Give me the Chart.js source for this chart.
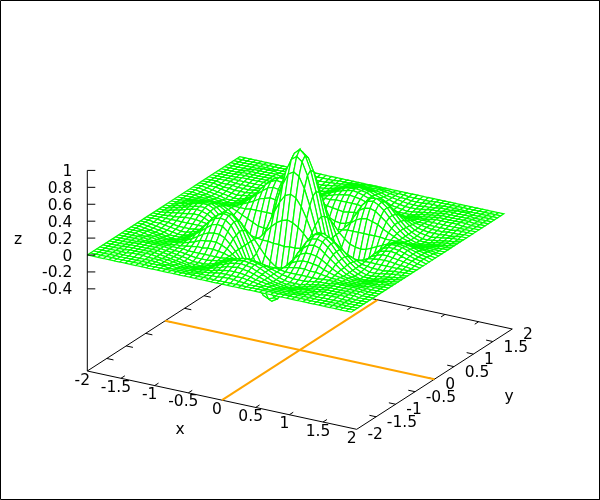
<!DOCTYPE html>
<html>
<head>
<meta charset="utf-8">
<title>Surface</title>
<script src="https://cdn.jsdelivr.net/npm/chart.js@4"></script>
<style>
  html, body { margin: 0; padding: 0; background: #fff; }
  canvas { display: block; }
</style>
</head>
<body>
<canvas id="chart" width="600" height="500"></canvas>
<script>
// grid positions of the wire mesh
const xGrid = [-2,-1.92,-1.84,-1.76,-1.68,-1.6,-1.52,-1.44,-1.36,-1.28,-1.2,-1.12,-1.04,-.96,-.88,-.8,-.72,-.64,-.56,-.48,-.4,-.32,-.24,-.16,-.08,0,.08,.16,.24,.32,.4,.48,.56,.64,.72,.8,.88,.96,1.04,1.12,1.2,1.28,1.36,1.44,1.52,1.6,1.68,1.76,1.84,1.92];
const yGrid = [-2,-1.92,-1.84,-1.76,-1.68,-1.6,-1.52,-1.44,-1.36,-1.28,-1.2,-1.12,-1.04,-.96,-.88,-.8,-.72,-.64,-.56,-.48,-.4,-.32,-.24,-.16,-.08,0,.08,.16,.24,.32,.4,.48,.56,.64,.72,.8,.88,.96,1.04,1.12,1.2,1.28,1.36,1.44,1.52,1.6,1.68,1.76,1.84,1.92];

// z values, one row per yGrid entry
const zRows = [
  [0,0,0,0,0,0,0,0,0,0,0,0,0,0,0,0,0,0,0,0,0,0,0,0,0,0,0,0,0,0,0,0,0,0,0,0,0,0,0,0,0,0,0,0,0,0,0,0,0,0],
  [0,0,0,0,0,0,0,0,0,0,0,0,0,0,0,0,0,0,0,0,0,0,0,0,0,0,0,0,0,0,0,0,0,0,0,0,0,0,0,0,0,0,0,0,0,0,0,0,0,0],
  [0,0,0,0,0,0,0,0,0,0,0,0,0,0,-.01,-.01,-.01,-.01,-.01,0,0,0,.01,.01,.02,.02,.02,.01,.01,0,0,0,-.01,-.01,-.01,-.01,-.01,0,0,0,0,0,0,0,0,0,0,0,0,0],
  [0,0,0,0,0,0,0,0,0,0,0,0,-.01,-.01,-.01,-.02,-.02,-.02,-.01,-.01,0,.01,.02,.03,.03,.03,.03,.03,.02,.01,0,-.01,-.01,-.02,-.02,-.02,-.01,-.01,-.01,0,0,0,0,0,0,0,0,0,0,0],
  [0,0,0,0,0,0,.01,.01,.01,0,0,0,-.01,-.02,-.02,-.03,-.03,-.03,-.02,-.01,0,.01,.03,.04,.05,.05,.05,.04,.03,.01,0,-.01,-.02,-.03,-.03,-.03,-.02,-.02,-.01,0,0,0,.01,.01,.01,0,0,0,0,0],
  [0,0,0,0,0,.01,.01,.01,.01,.01,0,-.01,-.01,-.02,-.03,-.04,-.04,-.04,-.03,-.02,0,.02,.04,.06,.07,.08,.07,.06,.04,.02,0,-.02,-.03,-.04,-.04,-.04,-.03,-.02,-.01,-.01,0,.01,.01,.01,.01,.01,0,0,0,0],
  [0,0,0,0,.01,.01,.01,.01,.01,.01,0,-.01,-.02,-.03,-.04,-.05,-.06,-.05,-.04,-.03,0,.03,.05,.08,.09,.1,.09,.08,.05,.03,0,-.03,-.04,-.05,-.06,-.05,-.04,-.03,-.02,-.01,0,.01,.01,.01,.01,.01,.01,0,0,0],
  [0,0,0,0,.01,.01,.01,.01,.01,.01,0,-.01,-.02,-.03,-.05,-.06,-.06,-.06,-.05,-.03,0,.03,.06,.09,.1,.11,.1,.09,.06,.03,0,-.03,-.05,-.06,-.06,-.06,-.05,-.03,-.02,-.01,0,.01,.01,.01,.01,.01,.01,0,0,0],
  [0,0,0,0,.01,.01,.01,.01,.01,.01,0,-.01,-.02,-.03,-.04,-.06,-.06,-.06,-.05,-.03,0,.03,.06,.08,.1,.11,.1,.08,.06,.03,0,-.03,-.05,-.06,-.06,-.06,-.04,-.03,-.02,-.01,0,.01,.01,.01,.01,.01,.01,0,0,0],
  [0,0,0,0,0,.01,.01,.01,.01,.01,0,-.01,-.01,-.02,-.03,-.04,-.04,-.04,-.03,-.02,0,.02,.04,.06,.07,.08,.07,.06,.04,.02,0,-.02,-.03,-.04,-.04,-.04,-.03,-.02,-.01,-.01,0,.01,.01,.01,.01,.01,0,0,0,0],
  [0,0,0,0,0,0,0,0,0,0,0,0,0,-.01,-.01,-.01,-.01,-.01,-.01,-.01,0,.01,.01,.02,.02,.02,.02,.02,.01,.01,0,-.01,-.01,-.01,-.01,-.01,-.01,-.01,0,0,0,0,0,0,0,0,0,0,0,0],
  [0,0,0,0,0,-.01,-.01,-.01,-.01,-.01,0,0,.01,.02,.03,.03,.04,.04,.03,.02,0,-.02,-.04,-.05,-.06,-.07,-.06,-.05,-.04,-.02,0,.02,.03,.04,.04,.03,.03,.02,.01,0,0,-.01,-.01,-.01,-.01,-.01,0,0,0,0],
  [0,0,0,-.01,-.01,-.01,-.02,-.02,-.02,-.01,0,.01,.03,.05,.08,.09,.1,.1,.08,.05,0,-.05,-.1,-.14,-.17,-.18,-.17,-.14,-.1,-.05,0,.05,.08,.1,.1,.09,.08,.05,.03,.01,0,-.01,-.02,-.02,-.02,-.01,-.01,-.01,0,0],
  [0,0,0,-.01,-.02,-.02,-.03,-.03,-.03,-.02,-.01,.02,.05,.09,.13,.16,.17,.17,.14,.08,.01,-.08,-.16,-.24,-.29,-.3,-.29,-.24,-.16,-.08,.01,.08,.14,.17,.17,.16,.13,.09,.05,.02,-.01,-.02,-.03,-.03,-.03,-.02,-.02,-.01,0,0],
  [0,0,-.01,-.01,-.02,-.03,-.04,-.05,-.04,-.03,-.01,.03,.08,.13,.18,.23,.25,.24,.19,.12,.01,-.11,-.23,-.33,-.4,-.43,-.4,-.33,-.23,-.11,.01,.12,.19,.24,.25,.23,.18,.13,.08,.03,-.01,-.03,-.04,-.05,-.04,-.03,-.02,-.01,-.01,0],
  [0,0,-.01,-.02,-.03,-.04,-.05,-.06,-.06,-.04,-.01,.03,.09,.16,.23,.28,.3,.29,.24,.14,.01,-.14,-.28,-.41,-.5,-.53,-.5,-.41,-.28,-.14,.01,.14,.24,.29,.3,.28,.23,.16,.09,.03,-.01,-.04,-.06,-.06,-.05,-.04,-.03,-.02,-.01,0],
  [0,0,-.01,-.02,-.03,-.04,-.06,-.06,-.06,-.04,-.01,.04,.1,.17,.25,.3,.33,.32,.26,.16,.01,-.15,-.31,-.45,-.54,-.58,-.54,-.45,-.31,-.15,.01,.16,.26,.32,.33,.3,.25,.17,.1,.04,-.01,-.04,-.06,-.06,-.06,-.04,-.03,-.02,-.01,0],
  [0,0,-.01,-.02,-.03,-.04,-.05,-.06,-.06,-.04,-.01,.04,.1,.17,.24,.29,.32,.31,.25,.15,.01,-.14,-.3,-.43,-.52,-.56,-.52,-.43,-.3,-.14,.01,.15,.25,.31,.32,.29,.24,.17,.1,.04,-.01,-.04,-.06,-.06,-.05,-.04,-.03,-.02,-.01,0],
  [0,0,-.01,-.01,-.02,-.03,-.04,-.05,-.05,-.03,-.01,.03,.08,.14,.19,.24,.26,.25,.21,.12,.01,-.12,-.25,-.35,-.43,-.45,-.43,-.35,-.25,-.12,.01,.12,.21,.25,.26,.24,.19,.14,.08,.03,-.01,-.03,-.05,-.05,-.04,-.03,-.02,-.01,-.01,0],
  [0,0,0,-.01,-.01,-.02,-.03,-.03,-.03,-.02,-.01,.02,.05,.08,.12,.14,.16,.15,.12,.07,.01,-.07,-.15,-.21,-.26,-.27,-.26,-.21,-.15,-.07,.01,.07,.12,.15,.16,.14,.12,.08,.05,.02,-.01,-.02,-.03,-.03,-.03,-.02,-.01,-.01,0,0],
  [0,0,0,0,0,0,0,0,0,0,0,0,0,.01,.01,.01,.01,.01,.01,.01,0,-.01,-.01,-.02,-.02,-.03,-.02,-.02,-.01,-.01,0,.01,.01,.01,.01,.01,.01,.01,0,0,0,0,0,0,0,0,0,0,0,0],
  [0,0,0,.01,.01,.02,.03,.03,.03,.02,.01,-.02,-.05,-.08,-.11,-.14,-.15,-.14,-.12,-.07,-.01,.07,.14,.2,.24,.26,.24,.2,.14,.07,-.01,-.07,-.12,-.14,-.15,-.14,-.11,-.08,-.05,-.02,.01,.02,.03,.03,.03,.02,.01,.01,0,0],
  [0,0,.01,.02,.03,.04,.05,.06,.06,.04,.01,-.04,-.1,-.16,-.23,-.28,-.31,-.3,-.25,-.15,-.01,.14,.29,.42,.51,.54,.51,.42,.29,.14,-.01,-.15,-.25,-.3,-.31,-.28,-.23,-.16,-.1,-.04,.01,.04,.06,.06,.05,.04,.03,.02,.01,0],
  [0,0,.01,.03,.04,.06,.08,.09,.08,.06,.02,-.05,-.14,-.24,-.33,-.41,-.45,-.43,-.35,-.21,-.02,.2,.42,.61,.74,.78,.74,.61,.42,.2,-.02,-.21,-.35,-.43,-.45,-.41,-.33,-.24,-.14,-.05,.02,.06,.08,.09,.08,.06,.04,.03,.01,0],
  [0,0,.02,.03,.05,.07,.09,.1,.1,.07,.02,-.06,-.17,-.29,-.4,-.5,-.54,-.52,-.43,-.26,-.02,.24,.51,.74,.89,.94,.89,.74,.51,.24,-.02,-.26,-.43,-.52,-.54,-.5,-.4,-.29,-.17,-.06,.02,.07,.1,.1,.09,.07,.05,.03,.02,0],
  [0,0,.02,.03,.05,.08,.1,.11,.11,.08,.02,-.07,-.18,-.3,-.43,-.53,-.58,-.56,-.45,-.27,-.03,.26,.54,.78,.94,1,.94,.78,.54,.26,-.03,-.27,-.45,-.56,-.58,-.53,-.43,-.3,-.18,-.07,.02,.08,.11,.11,.1,.08,.05,.03,.02,0],
  [0,0,.02,.03,.05,.07,.09,.1,.1,.07,.02,-.06,-.17,-.29,-.4,-.5,-.54,-.52,-.43,-.26,-.02,.24,.51,.74,.89,.94,.89,.74,.51,.24,-.02,-.26,-.43,-.52,-.54,-.5,-.4,-.29,-.17,-.06,.02,.07,.1,.1,.09,.07,.05,.03,.02,0],
  [0,0,.01,.03,.04,.06,.08,.09,.08,.06,.02,-.05,-.14,-.24,-.33,-.41,-.45,-.43,-.35,-.21,-.02,.2,.42,.61,.74,.78,.74,.61,.42,.2,-.02,-.21,-.35,-.43,-.45,-.41,-.33,-.24,-.14,-.05,.02,.06,.08,.09,.08,.06,.04,.03,.01,0],
  [0,0,.01,.02,.03,.04,.05,.06,.06,.04,.01,-.04,-.1,-.16,-.23,-.28,-.31,-.3,-.25,-.15,-.01,.14,.29,.42,.51,.54,.51,.42,.29,.14,-.01,-.15,-.25,-.3,-.31,-.28,-.23,-.16,-.1,-.04,.01,.04,.06,.06,.05,.04,.03,.02,.01,0],
  [0,0,0,.01,.01,.02,.03,.03,.03,.02,.01,-.02,-.05,-.08,-.11,-.14,-.15,-.14,-.12,-.07,-.01,.07,.14,.2,.24,.26,.24,.2,.14,.07,-.01,-.07,-.12,-.14,-.15,-.14,-.11,-.08,-.05,-.02,.01,.02,.03,.03,.03,.02,.01,.01,0,0],
  [0,0,0,0,0,0,0,0,0,0,0,0,0,.01,.01,.01,.01,.01,.01,.01,0,-.01,-.01,-.02,-.02,-.03,-.02,-.02,-.01,-.01,0,.01,.01,.01,.01,.01,.01,.01,0,0,0,0,0,0,0,0,0,0,0,0],
  [0,0,0,-.01,-.01,-.02,-.03,-.03,-.03,-.02,-.01,.02,.05,.08,.12,.14,.16,.15,.12,.07,.01,-.07,-.15,-.21,-.26,-.27,-.26,-.21,-.15,-.07,.01,.07,.12,.15,.16,.14,.12,.08,.05,.02,-.01,-.02,-.03,-.03,-.03,-.02,-.01,-.01,0,0],
  [0,0,-.01,-.01,-.02,-.03,-.04,-.05,-.05,-.03,-.01,.03,.08,.14,.19,.24,.26,.25,.21,.12,.01,-.12,-.25,-.35,-.43,-.45,-.43,-.35,-.25,-.12,.01,.12,.21,.25,.26,.24,.19,.14,.08,.03,-.01,-.03,-.05,-.05,-.04,-.03,-.02,-.01,-.01,0],
  [0,0,-.01,-.02,-.03,-.04,-.05,-.06,-.06,-.04,-.01,.04,.1,.17,.24,.29,.32,.31,.25,.15,.01,-.14,-.3,-.43,-.52,-.56,-.52,-.43,-.3,-.14,.01,.15,.25,.31,.32,.29,.24,.17,.1,.04,-.01,-.04,-.06,-.06,-.05,-.04,-.03,-.02,-.01,0],
  [0,0,-.01,-.02,-.03,-.04,-.06,-.06,-.06,-.04,-.01,.04,.1,.17,.25,.3,.33,.32,.26,.16,.01,-.15,-.31,-.45,-.54,-.58,-.54,-.45,-.31,-.15,.01,.16,.26,.32,.33,.3,.25,.17,.1,.04,-.01,-.04,-.06,-.06,-.06,-.04,-.03,-.02,-.01,0],
  [0,0,-.01,-.02,-.03,-.04,-.05,-.06,-.06,-.04,-.01,.03,.09,.16,.23,.28,.3,.29,.24,.14,.01,-.14,-.28,-.41,-.5,-.53,-.5,-.41,-.28,-.14,.01,.14,.24,.29,.3,.28,.23,.16,.09,.03,-.01,-.04,-.06,-.06,-.05,-.04,-.03,-.02,-.01,0],
  [0,0,-.01,-.01,-.02,-.03,-.04,-.05,-.04,-.03,-.01,.03,.08,.13,.18,.23,.25,.24,.19,.12,.01,-.11,-.23,-.33,-.4,-.43,-.4,-.33,-.23,-.11,.01,.12,.19,.24,.25,.23,.18,.13,.08,.03,-.01,-.03,-.04,-.05,-.04,-.03,-.02,-.01,-.01,0],
  [0,0,0,-.01,-.02,-.02,-.03,-.03,-.03,-.02,-.01,.02,.05,.09,.13,.16,.17,.17,.14,.08,.01,-.08,-.16,-.24,-.29,-.3,-.29,-.24,-.16,-.08,.01,.08,.14,.17,.17,.16,.13,.09,.05,.02,-.01,-.02,-.03,-.03,-.03,-.02,-.02,-.01,0,0],
  [0,0,0,-.01,-.01,-.01,-.02,-.02,-.02,-.01,0,.01,.03,.05,.08,.09,.1,.1,.08,.05,0,-.05,-.1,-.14,-.17,-.18,-.17,-.14,-.1,-.05,0,.05,.08,.1,.1,.09,.08,.05,.03,.01,0,-.01,-.02,-.02,-.02,-.01,-.01,-.01,0,0],
  [0,0,0,0,0,-.01,-.01,-.01,-.01,-.01,0,0,.01,.02,.03,.03,.04,.04,.03,.02,0,-.02,-.04,-.05,-.06,-.07,-.06,-.05,-.04,-.02,0,.02,.03,.04,.04,.03,.03,.02,.01,0,0,-.01,-.01,-.01,-.01,-.01,0,0,0,0],
  [0,0,0,0,0,0,0,0,0,0,0,0,0,-.01,-.01,-.01,-.01,-.01,-.01,-.01,0,.01,.01,.02,.02,.02,.02,.02,.01,.01,0,-.01,-.01,-.01,-.01,-.01,-.01,-.01,0,0,0,0,0,0,0,0,0,0,0,0],
  [0,0,0,0,0,.01,.01,.01,.01,.01,0,-.01,-.01,-.02,-.03,-.04,-.04,-.04,-.03,-.02,0,.02,.04,.06,.07,.08,.07,.06,.04,.02,0,-.02,-.03,-.04,-.04,-.04,-.03,-.02,-.01,-.01,0,.01,.01,.01,.01,.01,0,0,0,0],
  [0,0,0,0,.01,.01,.01,.01,.01,.01,0,-.01,-.02,-.03,-.04,-.06,-.06,-.06,-.05,-.03,0,.03,.06,.08,.1,.11,.1,.08,.06,.03,0,-.03,-.05,-.06,-.06,-.06,-.04,-.03,-.02,-.01,0,.01,.01,.01,.01,.01,.01,0,0,0],
  [0,0,0,0,.01,.01,.01,.01,.01,.01,0,-.01,-.02,-.03,-.05,-.06,-.06,-.06,-.05,-.03,0,.03,.06,.09,.1,.11,.1,.09,.06,.03,0,-.03,-.05,-.06,-.06,-.06,-.05,-.03,-.02,-.01,0,.01,.01,.01,.01,.01,.01,0,0,0],
  [0,0,0,0,.01,.01,.01,.01,.01,.01,0,-.01,-.02,-.03,-.04,-.05,-.06,-.05,-.04,-.03,0,.03,.05,.08,.09,.1,.09,.08,.05,.03,0,-.03,-.04,-.05,-.06,-.05,-.04,-.03,-.02,-.01,0,.01,.01,.01,.01,.01,.01,0,0,0],
  [0,0,0,0,0,.01,.01,.01,.01,.01,0,-.01,-.01,-.02,-.03,-.04,-.04,-.04,-.03,-.02,0,.02,.04,.06,.07,.08,.07,.06,.04,.02,0,-.02,-.03,-.04,-.04,-.04,-.03,-.02,-.01,-.01,0,.01,.01,.01,.01,.01,0,0,0,0],
  [0,0,0,0,0,0,.01,.01,.01,0,0,0,-.01,-.02,-.02,-.03,-.03,-.03,-.02,-.01,0,.01,.03,.04,.05,.05,.05,.04,.03,.01,0,-.01,-.02,-.03,-.03,-.03,-.02,-.02,-.01,0,0,0,.01,.01,.01,0,0,0,0,0],
  [0,0,0,0,0,0,0,0,0,0,0,0,-.01,-.01,-.01,-.02,-.02,-.02,-.01,-.01,0,.01,.02,.03,.03,.03,.03,.03,.02,.01,0,-.01,-.01,-.02,-.02,-.02,-.01,-.01,-.01,0,0,0,0,0,0,0,0,0,0,0],
  [0,0,0,0,0,0,0,0,0,0,0,0,0,0,-.01,-.01,-.01,-.01,-.01,0,0,0,.01,.01,.02,.02,.02,.01,.01,0,0,0,-.01,-.01,-.01,-.01,-.01,0,0,0,0,0,0,0,0,0,0,0,0,0],
  [0,0,0,0,0,0,0,0,0,0,0,0,0,0,0,0,0,0,0,0,0,0,0,0,0,0,0,0,0,0,0,0,0,0,0,0,0,0,0,0,0,0,0,0,0,0,0,0,0,0]
];

const xTicks = [-2,-1.5,-1,-.5,0,.5,1,1.5,2];
const yTicks = [-2,-1.5,-1,-.5,0,.5,1,1.5,2];
const zTicks = [1,.8,.6,.4,.2,0,-.2,-.4];
const axisMin = -2, axisMax = 2, basePlane = -1.371;

// view of the box: screen units per data unit, as measured on the picture
function project(x, y, z) {
  return {
    x: 299.8 + x * 67.35 + y * 38.9,
    y: 350 + x * 14.58 - y * 25.08 - (z - basePlane) * 84.6,
  };
}

function lineSet(points, color, width) {
  return { data: points, showLine: true, borderColor: color, borderWidth: width, pointRadius: 0, fill: false };
}

const onBase = (x, y) => project(x, y, basePlane);

// first dataset ends up on top, so the nearest mesh cells come first
const datasets = [];

// z axis
const zAxisTop = project(axisMin, axisMin, zTicks[0]);
datasets.push(lineSet([onBase(axisMin, axisMin), zAxisTop], '#000', 1));
zTicks.forEach(t => {
  const p = project(axisMin, axisMin, t);
  datasets.push(lineSet([p, { x: p.x + 8, y: p.y }], '#000', 1));
});

// mesh cells, near to far
for (let r = 0; r < yGrid.length - 1; r++) {
  for (let c = xGrid.length - 2; c >= 0; c--) {
    const cell = [
      project(xGrid[c], yGrid[r], zRows[r][c]),
      project(xGrid[c + 1], yGrid[r], zRows[r][c + 1]),
      project(xGrid[c + 1], yGrid[r + 1], zRows[r + 1][c + 1]),
      project(xGrid[c], yGrid[r + 1], zRows[r + 1][c]),
      project(xGrid[c], yGrid[r], zRows[r][c]),
    ];
    const set = lineSet(cell, '#00ff00', 1.25);
    set.meshCell = true;
    datasets.push(set);
  }
}

// orange lines on the base plane
datasets.push(lineSet([onBase(axisMin, 0), onBase(axisMax, 0)], '#ffa500', 2));
datasets.push(lineSet([onBase(0, axisMin), onBase(0, axisMax)], '#ffa500', 2));

// base plane border and ticks
datasets.push(lineSet([onBase(axisMin, axisMin), onBase(axisMax, axisMin), onBase(axisMax, axisMax), onBase(axisMin, axisMax), onBase(axisMin, axisMin)], '#000', 1));
xTicks.slice(1, -1).forEach(t => {
  datasets.push(lineSet([onBase(t, axisMin), onBase(t, axisMin + .1)], '#000', 1));
  datasets.push(lineSet([onBase(t, axisMax), onBase(t, axisMax - .1)], '#000', 1));
});
yTicks.slice(1, -1).forEach(t => {
  datasets.push(lineSet([onBase(axisMin, t), onBase(axisMin + .1, t)], '#000', 1));
  datasets.push(lineSet([onBase(axisMax, t), onBase(axisMax - .1, t)], '#000', 1));
});

// outer frame
datasets.push(lineSet([{x:.5,y:.5},{x:599.5,y:.5},{x:599.5,y:499.5},{x:.5,y:499.5},{x:.5,y:.5}], '#000', 1));

// white cell fill so the mesh hides what lies behind it
const hideBehind = {
  id: 'hideBehind',
  beforeDatasetDraw(chart, args) {
    if (!chart.data.datasets[args.index].meshCell) return;
    const ctx = chart.ctx;
    ctx.save();
    ctx.beginPath();
    args.meta.data.forEach((pt, i) => i ? ctx.lineTo(pt.x, pt.y) : ctx.moveTo(pt.x, pt.y));
    ctx.closePath();
    ctx.fillStyle = '#fff';
    ctx.fill();
    ctx.restore();
  },
};

const tickText = {
  id: 'tickText',
  afterDraw(chart) {
    const ctx = chart.ctx;
    const sx = chart.scales.x, sy = chart.scales.y;
    const put = (text, x, y, align) => {
      ctx.textAlign = align;
      ctx.fillText(text, sx.getPixelForValue(x), sy.getPixelForValue(y));
    };
    ctx.save();
    ctx.font = '15.5px "DejaVu Sans"';
    ctx.fillStyle = '#000';
    ctx.textBaseline = 'middle';
    zTicks.forEach(t => {
      const p = project(axisMin, axisMin, t);
      put(String(t), p.x - 15, p.y + 1.5, 'right');
    });
    xTicks.forEach(t => {
      const p = onBase(t, axisMin);
      put(String(t), p.x - 5, p.y + 9.5, 'center');
    });
    yTicks.forEach(t => {
      const p = onBase(axisMax, t);
      put(String(t), p.x + 10.7, p.y + 6, 'left');
    });
    put('x', 180, 430, 'center');
    put('y', 509, 397, 'center');
    put('z', 18, 239.5, 'center');
    ctx.restore();
  },
};

new Chart(document.getElementById('chart'), {
  type: 'scatter',
  data: { datasets },
  plugins: [hideBehind, tickText],
  options: {
    responsive: false,
    animation: false,
    events: [],
    layout: { padding: 0 },
    plugins: { legend: { display: false }, tooltip: { enabled: false } },
    scales: {
      x: { type: 'linear', min: 0, max: 600, display: false },
      y: { type: 'linear', min: 0, max: 500, reverse: true, display: false },
    },
  },
});
</script>
</body>
</html>
